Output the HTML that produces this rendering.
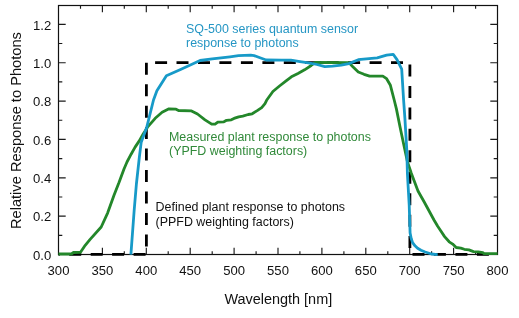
<!DOCTYPE html>
<html><head><meta charset="utf-8"><style>
html,body{margin:0;padding:0;background:#fff;width:519px;height:318px;overflow:hidden}
svg{display:block;will-change:transform}
</style></head><body>
<svg width="519" height="318" viewBox="0 0 519 318">
<rect width="519" height="318" fill="#fff"/>
<rect x="58.5" y="5.5" width="439.0" height="249.0" fill="none" stroke="#111" stroke-width="1.2"/>
<path d="M80.5,254.5v-3.2M80.5,5.5v3.2M102.4,254.5v-6.8M102.4,5.5v6.8M124.3,254.5v-3.2M124.3,5.5v3.2M146.3,254.5v-6.8M146.3,5.5v6.8M168.2,254.5v-3.2M168.2,5.5v3.2M190.2,254.5v-6.8M190.2,5.5v6.8M212.2,254.5v-3.2M212.2,5.5v3.2M234.1,254.5v-6.8M234.1,5.5v6.8M256.1,254.5v-3.2M256.1,5.5v3.2M278.0,254.5v-6.8M278.0,5.5v6.8M299.9,254.5v-3.2M299.9,5.5v3.2M321.9,254.5v-6.8M321.9,5.5v6.8M343.9,254.5v-3.2M343.9,5.5v3.2M365.8,254.5v-6.8M365.8,5.5v6.8M387.8,254.5v-3.2M387.8,5.5v3.2M409.7,254.5v-6.8M409.7,5.5v6.8M431.6,254.5v-3.2M431.6,5.5v3.2M453.6,254.5v-6.8M453.6,5.5v6.8M475.6,254.5v-3.2M475.6,5.5v3.2M58.5,235.3h3.8M497.5,235.3h-3.8M58.5,216.1h7.2M497.5,216.1h-7.2M58.5,197.0h3.8M497.5,197.0h-3.8M58.5,177.8h7.2M497.5,177.8h-7.2M58.5,158.6h3.8M497.5,158.6h-3.8M58.5,139.4h7.2M497.5,139.4h-7.2M58.5,120.2h3.8M497.5,120.2h-3.8M58.5,101.1h7.2M497.5,101.1h-7.2M58.5,81.9h3.8M497.5,81.9h-3.8M58.5,62.7h7.2M497.5,62.7h-7.2M58.5,43.5h3.8M497.5,43.5h-3.8M58.5,24.3h7.2M497.5,24.3h-7.2" stroke="#1a1a1a" stroke-width="1.15" fill="none"/>
<path d="M133.6,254.3H145.6M112.1,254.3H124.1M90.7,254.3H102.7M69.2,254.3H81.2M58.5,254.3H59.8M146.4,62.8V74.8M146.4,84.2V96.2M146.4,105.7V117.7M146.4,127.1V139.1M146.4,148.6V160.6M146.4,170.1V182.1M146.4,191.5V203.5M146.4,212.9V224.9M146.4,234.4V246.4M155.1,62.6H167.1M176.5,62.6H188.5M198.0,62.6H210.0M219.4,62.6H231.4M240.9,62.6H252.9M262.4,62.6H274.4M283.8,62.6H295.8M305.2,62.6H317.2M326.7,62.6H338.7M348.1,62.6H360.1M369.6,62.6H381.6M391.0,62.6H403.0M409.9,64.5V76.5M409.9,86.0V98.0M409.9,107.4V119.4M409.9,128.8V140.8M409.9,150.3V162.3M409.9,171.8V183.8M409.9,193.2V205.2M409.9,214.7V226.7M409.9,236.1V248.1M412.5,254.3H424.5M433.9,254.3H445.9M455.4,254.3H467.4M476.9,254.3H488.9" stroke="#000" stroke-width="2.8" fill="none"/>
<polyline points="58.5,254.0 71.4,254.0 73.5,252.5 80.5,252.3 85.2,245.3 89.9,239.6 101.2,227.0 107.7,212.8 114.0,195.2 119.0,182.6 124.0,169.0 127.0,162.0 131.1,154.2 135.1,147.1 139.1,141.1 143.2,134.0 147.5,127.2 155.2,118.3 162.1,112.3 169.0,108.8 176.0,109.2 178.5,110.5 191.5,110.9 197.5,114.0 205.0,119.8 211.7,124.2 215.1,124.2 217.8,122.2 223.9,121.8 226.6,120.3 231.3,119.8 234.0,118.4 238.7,116.8 242.8,116.1 248.2,114.5 252.2,113.8 257.6,110.4 261.7,107.6 265.0,103.6 266.6,100.3 272.9,91.5 279.5,86.0 286.1,80.8 291.4,76.8 298.0,73.4 304.6,69.8 311.2,65.5 314.5,62.8 316.1,62.3 348.9,62.6 352.6,66.4 358.3,72.0 364.0,74.3 369.6,76.2 382.8,76.2 386.6,78.7 390.4,85.3 394.2,100.0 396.4,108.9 400.2,127.7 404.9,150.0 407.5,161.9 411.3,173.2 418.0,191.0 424.5,202.5 434.0,220.0 437.7,226.3 440.2,230.0 444.6,236.6 449.2,241.8 452.7,244.1 456.2,247.5 460.8,248.1 464.3,249.3 468.9,249.9 473.5,251.6 478.2,251.8 482.8,252.7 484.0,253.7 497.5,253.7" fill="none" stroke="#23872a" stroke-width="2.8" stroke-linejoin="round"/>
<polyline points="130.9,254.7 134.2,210.0 136.4,184.0 139.3,157.6 141.2,142.2 146.6,127.8 153.5,100.0 156.9,90.8 166.4,75.7 181.1,69.2 200.1,60.5 212.2,58.9 230.0,56.8 238.5,55.7 250.8,55.2 254.0,55.6 260.0,57.8 266.2,60.0 281.6,60.1 290.9,60.2 300.0,61.6 308.4,62.8 317.0,64.5 324.8,66.7 332.5,66.2 341.3,65.1 348.9,63.6 358.3,59.7 377.2,57.8 386.6,55.1 393.2,54.3 397.0,59.6 401.7,69.2 403.6,100.0 404.9,118.3 406.8,150.0 407.4,173.3 409.2,205.0 410.1,233.0 411.2,238.5 412.6,242.6 415.0,245.8 417.6,248.3 421.0,250.3 425.2,252.0 431.4,254.0 437.7,254.6" fill="none" stroke="#179ac8" stroke-width="2.8" stroke-linejoin="round"/>
<g font-family="Liberation Sans, sans-serif" font-size="13.1" fill="#111"><text x="58.5" y="275.1" text-anchor="middle">300</text><text x="102.4" y="275.1" text-anchor="middle">350</text><text x="146.3" y="275.1" text-anchor="middle">400</text><text x="190.2" y="275.1" text-anchor="middle">450</text><text x="234.1" y="275.1" text-anchor="middle">500</text><text x="278.0" y="275.1" text-anchor="middle">550</text><text x="321.9" y="275.1" text-anchor="middle">600</text><text x="365.8" y="275.1" text-anchor="middle">650</text><text x="409.7" y="275.1" text-anchor="middle">700</text><text x="453.6" y="275.1" text-anchor="middle">750</text><text x="497.5" y="275.1" text-anchor="middle">800</text><text x="51.2" y="259.7" text-anchor="end">0.0</text><text x="51.2" y="221.3" text-anchor="end">0.2</text><text x="51.2" y="183.0" text-anchor="end">0.4</text><text x="51.2" y="144.6" text-anchor="end">0.6</text><text x="51.2" y="106.3" text-anchor="end">0.8</text><text x="51.2" y="67.9" text-anchor="end">1.0</text><text x="51.2" y="29.5" text-anchor="end">1.2</text></g>
<text font-family="Liberation Sans, sans-serif" font-size="14.45" fill="#111" x="278.3" y="304" text-anchor="middle">Wavelength [nm]</text>
<text font-family="Liberation Sans, sans-serif" font-size="14.65" fill="#111" transform="translate(20.8,130.6) rotate(-90)" text-anchor="middle">Relative Response to Photons</text>
<g font-family="Liberation Sans, sans-serif" font-size="12.45" fill="#2596c4"><text x="186" y="33">SQ-500 series quantum sensor</text><text x="186" y="47.3">response to photons</text></g>
<g font-family="Liberation Sans, sans-serif" font-size="12.45" fill="#318a3a"><text x="169" y="140.5">Measured plant response to photons</text><text x="169" y="155">(YPFD weighting factors)</text></g>
<g font-family="Liberation Sans, sans-serif" font-size="12.45" fill="#111"><text x="155.6" y="210.9">Defined plant response to photons</text><text x="155.6" y="225.6">(PPFD weighting factors)</text></g>
</svg>
</body></html>
